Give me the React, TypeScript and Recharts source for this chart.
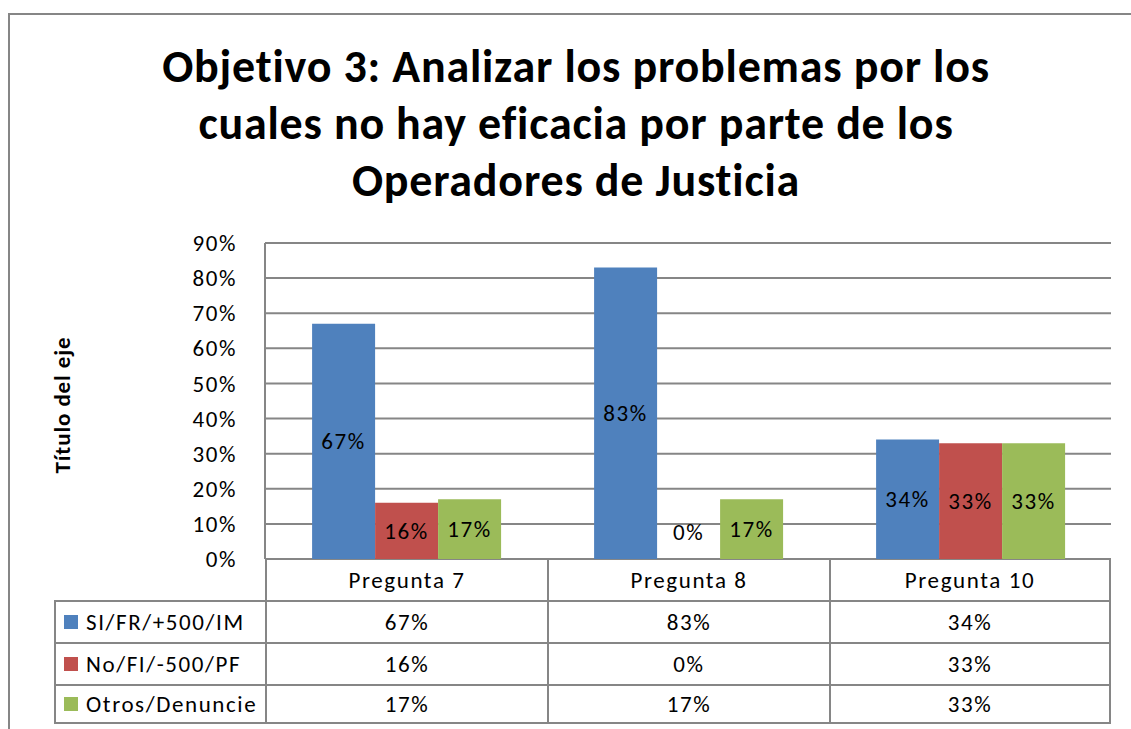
import { BarChart, Bar, XAxis, YAxis, CartesianGrid, LabelList, Rectangle } from "recharts";

const categories = ["Pregunta 7", "Pregunta 8", "Pregunta 10"];
const seriesNames = ["SI/FR/+500/IM", "No/FI/-500/PF", "Otros/Denuncie"];
const siValues = [67, 83, 34];
const noValues = [16, 0, 33];
const otrosValues = [17, 17, 33];
const yTicks = [0, 10, 20, 30, 40, 50, 60, 70, 80, 90];
const titleLines = [
  "Objetivo 3: Analizar los problemas por los",
  "cuales no hay eficacia por parte de los",
  "Operadores de Justicia",
];
const axisTitle = "Título del eje";

const colors = ["#4F81BD", "#C0504D", "#9BBB59"];
const seriesValues = [siValues, noValues, otrosValues];
const keys = ["si", "no", "otros"];

const data = categories.map((name, i) => ({
  name,
  si: siValues[i],
  no: noValues[i],
  otros: otrosValues[i],
}));

const FONT = "Carlito, Calibri, Lato, sans-serif";
const FS = 23;
const LS = 1.6;
const GRID = "#868686";
const W = 1131;
const H = 729;
const PLOT_LEFT = 265;
const PLOT_RIGHT = 1111;
const PLOT_TOP = 243;
const PLOT_BOTTOM = 559;
const Y_AXIS_W = 60;
const TABLE_LEFT = 54;
const ROW_TOPS = [559, 600, 642, 684, 724];

const pct = (v: number) => `${v}%`;
const textStyle = { letterSpacing: LS, fontVariantLigatures: "none" } as any;

// Excel puts a zero label just above the baseline instead of on it
const barLabel = (props: any) => {
  const { x, y, width, height, value } = props;
  const cx = x + width / 2;
  const cy = value === 0 ? PLOT_BOTTOM - 27 : y + height / 2;
  return (
    <text
      x={cx}
      y={cy}
      textAnchor="middle"
      dominantBaseline="central"
      fontSize={FS}
      fontFamily={FONT}
      fill="#000"
      style={textStyle}
    >
      {pct(value)}
    </text>
  );
};

// zero bars get a 1px stub (so the label is kept) but are not painted
const barShape = (props: any) => {
  if (props.value === 0) return <g />;
  return <Rectangle {...props} />;
};

function DataTable() {
  const colW = (PLOT_RIGHT - PLOT_LEFT) / categories.length;
  const border = `2px solid ${GRID}`;
  const cells: any[] = [];
  categories.forEach((c, i) => {
    cells.push(
      <div
        key={`h${i}`}
        style={{
          position: "absolute",
          left: PLOT_LEFT + i * colW,
          top: ROW_TOPS[0],
          width: colW,
          height: ROW_TOPS[1] - ROW_TOPS[0],
          borderLeft: border,
          borderRight: i === categories.length - 1 ? border : undefined,
          boxSizing: "border-box",
          display: "flex",
          alignItems: "center",
          justifyContent: "center",
        }}
      >
        {c}
      </div>
    );
  });
  seriesNames.forEach((s, r) => {
    const top = ROW_TOPS[r + 1];
    const h = ROW_TOPS[r + 2] - top;
    cells.push(
      <div
        key={`l${r}`}
        style={{
          position: "absolute",
          left: TABLE_LEFT,
          top,
          width: PLOT_LEFT - TABLE_LEFT,
          height: h,
          borderLeft: border,
          borderTop: border,
          borderBottom: r === seriesNames.length - 1 ? border : undefined,
          boxSizing: "border-box",
          display: "flex",
          alignItems: "center",
          paddingLeft: 8,
          whiteSpace: "nowrap",
        }}
      >
        <span
          style={{
            display: "inline-block",
            width: 14,
            height: 14,
            background: colors[r],
            marginRight: 8,
          }}
        />
        {s}
      </div>
    );
    categories.forEach((_, i) => {
      cells.push(
        <div
          key={`c${r}-${i}`}
          style={{
            position: "absolute",
            left: PLOT_LEFT + i * colW,
            top,
            width: colW,
            height: h,
            borderLeft: border,
            borderTop: border,
            borderRight: i === categories.length - 1 ? border : undefined,
            borderBottom: r === seriesNames.length - 1 ? border : undefined,
            boxSizing: "border-box",
            display: "flex",
            alignItems: "center",
            justifyContent: "center",
          }}
        >
          {pct(seriesValues[r][i])}
        </div>
      );
    });
  });
  return <>{cells}</>;
}

export default function App() {
  return (
    <div
      style={{
        position: "absolute",
        left: 0,
        top: 0,
        width: W,
        height: H,
        overflow: "hidden",
        background: "#fff",
        fontFamily: FONT,
        fontSize: FS,
        letterSpacing: LS,
        fontVariantLigatures: "none",
        color: "#000",
      }}
    >
      <div
        style={{
          position: "absolute",
          left: 8,
          top: 13,
          width: W,
          height: H,
          borderLeft: `2px solid ${GRID}`,
          borderTop: `2px solid ${GRID}`,
        }}
      />
      <div
        style={{
          position: "absolute",
          left: 0,
          top: 38,
          width: 1152,
          textAlign: "center",
          fontWeight: 700,
          fontSize: 46,
          letterSpacing: 0.8,
          lineHeight: "57px",
        }}
      >
        {titleLines.map((l) => (
          <div key={l}>{l}</div>
        ))}
      </div>
      <div
        style={{
          position: "absolute",
          left: 62,
          top: 405,
          transform: "translate(-50%, -50%) rotate(-90deg)",
          fontWeight: 700,
          fontSize: 23,
          letterSpacing: 0.9,
          whiteSpace: "nowrap",
        }}
      >
        {axisTitle}
      </div>
      <div style={{ position: "absolute", left: 0, top: 0 }}>
        <BarChart
          width={W}
          height={H}
          data={data}
          margin={{
            top: PLOT_TOP,
            right: W - PLOT_RIGHT,
            bottom: H - PLOT_BOTTOM,
            left: PLOT_LEFT - Y_AXIS_W,
          }}
          barCategoryGap="16.7%"
          barGap={0}
        >
          <CartesianGrid vertical={false} stroke={GRID} strokeWidth={2} />
          <XAxis dataKey="name" hide />
          <YAxis
            width={Y_AXIS_W}
            domain={[0, 90]}
            ticks={yTicks}
            tickFormatter={pct}
            tickLine={false}
            axisLine={{ stroke: GRID, strokeWidth: 2 }}
            tick={{ fill: "#000", fontSize: FS, fontFamily: FONT, style: textStyle }}
            tickMargin={22}
            interval={0}
          />
          {keys.map((k, i) => (
            <Bar
              key={k}
              dataKey={k}
              name={seriesNames[i]}
              fill={colors[i]}
              minPointSize={(v: any) => (v === 0 ? 1 : 0)}
              shape={barShape}
              isAnimationActive={false}
            >
              <LabelList dataKey={k} content={barLabel} />
            </Bar>
          ))}
        </BarChart>
      </div>
      <DataTable />
    </div>
  );
}
